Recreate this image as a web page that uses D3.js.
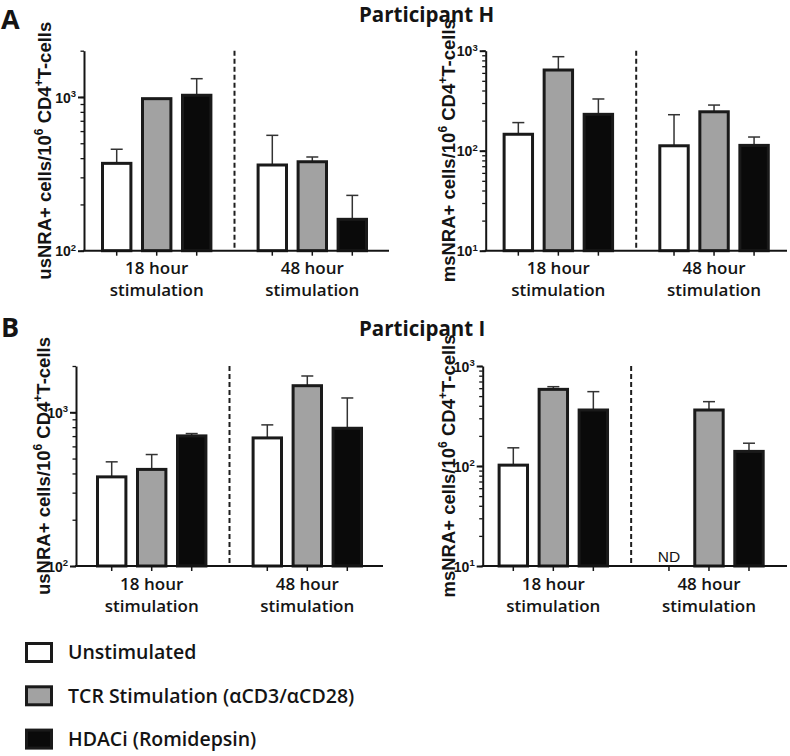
<!DOCTYPE html>
<html>
<head>
<meta charset="utf-8">
<script src="https://cdn.jsdelivr.net/npm/d3@7"></script>
<style>
  html, body { margin: 0; padding: 0; background: #fff; }
</style>
</head>
<body>
<div id="chart"></div>
<script>
// ---------------- DATA ----------------
const groups = ["18 hour", "48 hour"];
const groupSubLabel = "stimulation";
const treatments = ["Unstimulated", "TCR Stimulation (αCD3/αCD28)", "HDACi (Romidepsin)"];
const panelLetters = ["A", "B"];
const participants = ["Participant H", "Participant I"];
const assays = ["usNRA+", "msNRA+"];

// bar heights (mean) per group [18h, 48h], each [Unstim, TCR, HDACi]; null = not detected
const hUsnraMean  = [[370, 975, 1026], [361, 379, 160]];
const hUsnraUpper = [[457, null, 1315], [563, 407, 229]];
const hMsnraMean  = [[146, 641, 231], [112, 245, 113]];
const hMsnraUpper = [[191, 871, 329], [229, 286, 137]];
const iUsnraMean  = [[380, 425, 702], [681, 1489, 787]];
const iUsnraUpper = [[476, 531, 727], [828, 1722, 1239]];
const iMsnraMean  = [[102, 584, 363], [null, 363, 140]];
const iMsnraUpper = [[152, 621, 554], [null, 440, 169]];

const usDomain = [100, 2000];
const msDomain = [10, 1000];
const ndLabel = "ND";

// ---------------- STYLE / LAYOUT ----------------
const fills = ["#ffffff", "#a2a2a2", "#0a0a0a"];
const ink = "#141414";
const sansUI = "'Open Sans', sans-serif";
const sansAx = "'Liberation Sans', Arial, sans-serif";

const W = 790, H = 756;
const svg = d3.select("#chart").append("svg")
  .attr("width", W).attr("height", H)
  .style("background", "#fff");

const panels = [
  { x0: 84,    x1: 389, top: 50.7, bottom: 250.7, band: [78.9, 390.1], domain: usDomain, assay: assays[0], labelX: 51,  mean: hUsnraMean, upper: hUsnraUpper },
  { x0: 485.7, x1: 787, top: 50.7, bottom: 250.7, band: [480.5, 791.9], domain: msDomain, assay: assays[1], labelX: 455, mean: hMsnraMean, upper: hMsnraUpper },
  { x0: 76,    x1: 383, top: 366,  bottom: 566,   band: [73.9, 385.1], domain: usDomain, assay: assays[0], labelX: 50,  mean: iUsnraMean, upper: iUsnraUpper },
  { x0: 482.7, x1: 787, top: 366,  bottom: 566,   band: [475.5, 786.8], domain: msDomain, assay: assays[1], labelX: 455, mean: iMsnraMean, upper: iMsnraUpper }
];

// ---------------- TITLES ----------------
const rowBase = [21.5, 335.5];
panelLetters.forEach((L, i) => {
  svg.append("text").attr("x", 1).attr("y", [29, 337][i])
    .attr("font-family", sansUI).attr("font-weight", 700).attr("font-size", 27)
    .attr("fill", ink).text(L);
  svg.append("text").attr("x", 359).attr("y", rowBase[i])
    .attr("font-family", sansUI).attr("font-weight", 700).attr("font-size", 20.5)
    .attr("fill", ink).text(participants[i]);
});

// ---------------- PANELS ----------------
panels.forEach(p => {
  const g = svg.append("g");
  const y = d3.scaleLog().domain(p.domain).range([p.bottom, p.top]);
  const gx = d3.scaleBand().domain(groups).range(p.band);
  const sx = d3.scaleBand().domain(treatments).range([0, gx.bandwidth()])
    .paddingInner(0.29).paddingOuter(0.59);
  const bw = sx.bandwidth();

  const rows = [];
  groups.forEach((grp, gi) => treatments.forEach((t, ti) => {
    rows.push({ grp, t, ti, v: p.mean[gi][ti], u: p.upper[gi][ti],
                cx: gx(grp) + sx(t) + bw / 2, x: gx(grp) + sx(t) });
  }));

  // dashed separator
  g.append("line")
    .attr("x1", gx(groups[1])).attr("x2", gx(groups[1]))
    .attr("y1", p.top).attr("y2", p.bottom)
    .attr("stroke", "#1e1e1e").attr("stroke-width", 2).attr("stroke-dasharray", "5,3");

  // error bars
  const eb = g.selectAll(".eb").data(rows.filter(d => d.v != null && d.u != null)).join("g");
  eb.append("line").attr("x1", d => d.cx).attr("x2", d => d.cx)
    .attr("y1", d => y(d.v)).attr("y2", d => y(d.u))
    .attr("stroke", "#333").attr("stroke-width", 1.5);
  eb.append("line").attr("x1", d => d.cx - 6).attr("x2", d => d.cx + 6)
    .attr("y1", d => y(d.u)).attr("y2", d => y(d.u))
    .attr("stroke", "#333").attr("stroke-width", 1.5);

  // bars
  g.selectAll(".bar").data(rows.filter(d => d.v != null)).join("rect")
    .attr("x", d => d.x).attr("width", bw)
    .attr("y", d => y(d.v)).attr("height", d => p.bottom - y(d.v))
    .attr("fill", d => fills[d.ti]).attr("stroke", "#1a1a1a").attr("stroke-width", 3);

  // ND labels
  g.selectAll(".nd").data(rows.filter(d => d.v == null)).join("text")
    .attr("x", d => d.cx).attr("y", p.bottom - 4.5)
    .attr("text-anchor", "middle").attr("font-family", sansAx).attr("font-size", 15.5)
    .attr("fill", ink).text(ndLabel);

  // y axis: minor ticks
  const yMinor = g.append("g").attr("transform", `translate(${p.x0},0)`)
    .call(d3.axisLeft(y).tickValues(y.ticks()).tickSize(3.5).tickSizeOuter(0).tickFormat(""));
  yMinor.select(".domain").attr("stroke", ink).attr("stroke-width", 2);
  yMinor.selectAll(".tick line").attr("stroke", ink).attr("stroke-width", 1.3);

  // y axis: major ticks
  const majors = y.ticks().filter(v => Math.abs(Math.log10(v) - Math.round(Math.log10(v))) < 1e-9);
  const yMajor = g.append("g").attr("transform", `translate(${p.x0},0)`)
    .call(d3.axisLeft(y).tickValues(majors).tickSize(6).tickSizeOuter(0).tickFormat(() => ""));
  yMajor.select(".domain").remove();
  yMajor.selectAll(".tick line").attr("stroke", ink).attr("stroke-width", 2);
  yMajor.selectAll(".tick text").each(function (d) {
    const t = d3.select(this);
    t.text(null);
    t.attr("font-family", sansAx).attr("font-weight", 700).attr("font-size", 14)
      .attr("fill", ink).attr("x", -8).attr("dy", "0.36em");
    t.append("tspan").text("10");
    t.append("tspan").attr("dy", -5.5).attr("font-size", 9.5).text(Math.round(Math.log10(d)));
  });

  // x axis line and ticks
  g.append("line").attr("x1", p.x0 - 1).attr("x2", p.x1)
    .attr("y1", p.bottom).attr("y2", p.bottom)
    .attr("stroke", ink).attr("stroke-width", 2);
  g.selectAll(".xt").data(rows).join("line")
    .attr("x1", d => d.cx).attr("x2", d => d.cx)
    .attr("y1", p.bottom).attr("y2", p.bottom + 5)
    .attr("stroke", ink).attr("stroke-width", 1.5);

  // x labels
  groups.forEach(grp => {
    const cx = gx(grp) + gx.bandwidth() / 2;
    const tx = g.append("text").attr("text-anchor", "middle")
      .attr("font-family", sansUI).attr("font-weight", 600).attr("font-size", 17)
      .attr("fill", ink);
    tx.append("tspan").attr("x", cx).attr("y", p.bottom + 23.5).text(grp);
    tx.append("tspan").attr("x", cx).attr("y", p.bottom + 45.5).text(groupSubLabel);
  });

  // y label
  const cy = (p.top + p.bottom) / 2;
  const yl = g.append("text")
    .attr("transform", `translate(${p.labelX},${cy}) rotate(-90)`)
    .attr("text-anchor", "middle")
    .attr("font-family", sansAx).attr("font-weight", 700).attr("font-size", 18.5)
    .attr("fill", ink);
  yl.append("tspan").text(p.assay + " cells/10");
  yl.append("tspan").attr("dy", -8).attr("font-size", 12).text("6");
  yl.append("tspan").attr("dy", 8).text(" CD4");
  yl.append("tspan").attr("dy", -8).attr("font-size", 12).text("+");
  yl.append("tspan").attr("dy", 8).text("T-cells");
});

// ---------------- LEGEND ----------------
const leg = svg.append("g");
treatments.forEach((t, i) => {
  const yy = 643.5 + i * 43.3;
  leg.append("rect").attr("x", 26.5).attr("y", yy).attr("width", 25).attr("height", 18)
    .attr("fill", fills[i]).attr("stroke", "#1a1a1a").attr("stroke-width", 3);
  leg.append("text").attr("x", 68).attr("y", yy + 15.8)
    .attr("font-family", sansUI).attr("font-weight", 600).attr("font-size", 19.5)
    .attr("fill", ink).text(t);
});
</script>
</body>
</html>
